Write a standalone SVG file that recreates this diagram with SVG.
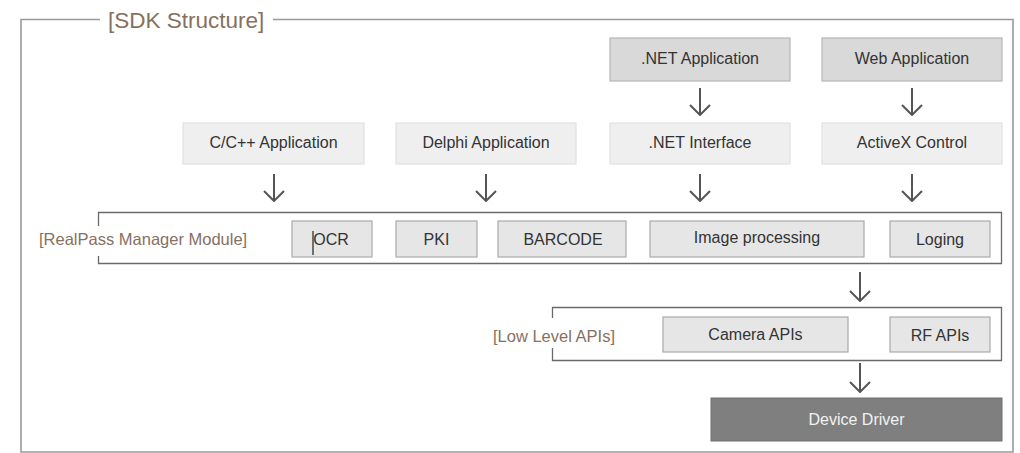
<svg xmlns="http://www.w3.org/2000/svg" width="1020" height="453" viewBox="0 0 1020 453">
<defs>
<marker id="chev" viewBox="0 0 12 22" refX="11" refY="11" markerWidth="12" markerHeight="22" markerUnits="userSpaceOnUse" orient="auto">
<path d="M1,1 L11,11 L1,21" fill="none" stroke="#555" stroke-width="2"/>
</marker>
<style>
text{font-family:"Liberation Sans",Arial,sans-serif;font-size:16px;fill:#333333;text-anchor:middle}
.lbl{fill:#86705f;text-anchor:start;font-size:16.5px}
.title{font-size:22.5px;fill:#86705f;text-anchor:start}
.dark{fill:#d9d9d9;stroke:#b5b5b5;stroke-width:1.2}
.light{fill:#efefef;stroke:#e2e2e2;stroke-width:1.2}
.mod{fill:#e6e6e6;stroke:#aaaaaa;stroke-width:1.2}
.frame{fill:none;stroke:#6a6a6a;stroke-width:1.3}
.outer{fill:none;stroke:#9a9a9a;stroke-width:1.6}
.arr{stroke:#555;stroke-width:2;fill:none;marker-end:url(#chev)}
.drv{fill:#7f7f7f;stroke:#707070;stroke-width:1}
.drvt{fill:#f2f2f2}
</style>
</defs>
<rect width="1020" height="453" fill="#ffffff"/>
<g id="sdk-frame">
<path class="outer" d="M100,19.5 H21 V452 H1013 V19.5 H273"/>
<text class="title" x="108" y="28">[SDK Structure]</text>
</g>
<g id="net-app"><rect class="dark" x="610" y="38" width="180" height="43"/><text x="700" y="64">.NET Application</text></g>
<g id="web-app"><rect class="dark" x="822" y="38" width="180" height="43"/><text x="912" y="64">Web Application</text></g>
<g id="c-app"><rect class="light" x="183" y="123" width="181" height="41"/><text x="273.5" y="148">C/C++ Application</text></g>
<g id="delphi-app"><rect class="light" x="396" y="123" width="180" height="41"/><text x="486" y="148">Delphi Application</text></g>
<g id="net-if"><rect class="light" x="610" y="123" width="180" height="41"/><text x="700" y="148">.NET Interface</text></g>
<g id="activex"><rect class="light" x="822" y="123" width="180" height="41"/><text x="912" y="148">ActiveX Control</text></g>
<g id="realpass-module">
<path class="frame" d="M98.5,226 V212.5 H1001.5 V263.5 H98.5 V256"/>
<text class="lbl" x="39" y="245">[RealPass Manager Module]</text>
</g>
<g id="ocr"><rect class="mod" x="292" y="221" width="80" height="36"/><text x="331" y="245">OCR</text><line x1="313" y1="231" x2="313" y2="255" stroke="#222" stroke-width="1.2"/></g>
<g id="pki"><rect class="mod" x="396" y="221" width="81" height="36"/><text x="436.5" y="245">PKI</text></g>
<g id="barcode"><rect class="mod" x="498" y="221" width="128" height="36"/><text x="563" y="245">BARCODE</text></g>
<g id="image-processing"><rect class="mod" x="650" y="221" width="214" height="36"/><text x="757" y="243">Image processing</text></g>
<g id="loging"><rect class="mod" x="890" y="221" width="100" height="36"/><text x="940" y="245">Loging</text></g>
<g id="low-level">
<path class="frame" d="M552.5,318 V307.5 H1001.5 V360.5 H552.5 V348"/>
<text class="lbl" x="493" y="342">[Low Level APIs]</text>
</g>
<g id="camera-apis"><rect class="mod" x="663" y="317" width="185" height="35"/><text x="755.5" y="340">Camera APIs</text></g>
<g id="rf-apis"><rect class="mod" x="890" y="317" width="100" height="35"/><text x="940" y="341">RF APIs</text></g>
<g id="device-driver"><rect class="drv" x="711" y="398" width="291" height="43"/><text class="drvt" x="856.5" y="425">Device Driver</text></g>
<g id="connectors">
<line class="arr" x1="700" y1="88" x2="700" y2="115"/>
<line class="arr" x1="912" y1="88" x2="912" y2="115"/>
<line class="arr" x1="274" y1="174" x2="274" y2="201"/>
<line class="arr" x1="486" y1="174" x2="486" y2="201"/>
<line class="arr" x1="700" y1="174" x2="700" y2="201"/>
<line class="arr" x1="912" y1="174" x2="912" y2="201"/>
<line class="arr" x1="860" y1="272" x2="860" y2="301"/>
<line class="arr" x1="860" y1="363" x2="860" y2="392"/>
</g>
</svg>
